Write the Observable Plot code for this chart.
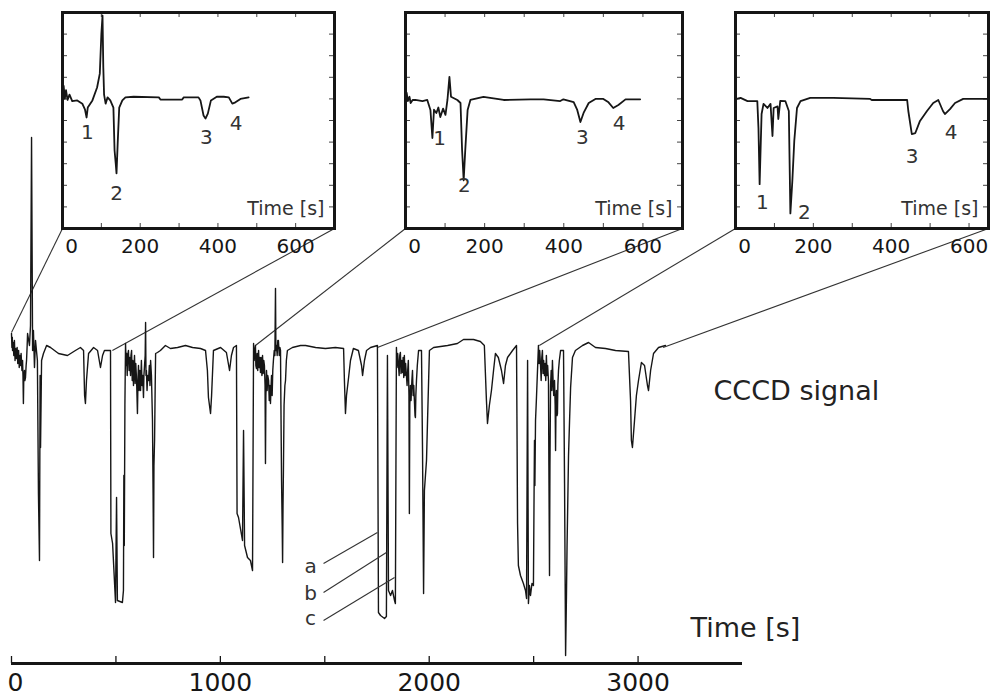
<!DOCTYPE html>
<html><head><meta charset="utf-8">
<script src="https://cdn.jsdelivr.net/npm/d3@7"></script>
<script src="https://cdn.jsdelivr.net/npm/@observablehq/plot@0.6"></script>
<style>
body{margin:0;background:#fff;}
#wrap{position:relative;width:993px;height:700px;overflow:hidden;font-family:"DejaVu Sans",Verdana,sans-serif;}
#wrap svg{position:absolute;overflow:visible;}
</style></head><body><div id="wrap"></div>
<script>
// ---- main CCCD signal: [time s, signal (a.u.)]
const mainSignal = [[0,12],[2,-2],[4,8],[5,-5],[8,3],[11,-10],[14,5],[17,-15],[20,-3],[24,-13],[27,-2],[30,-18],[34,-5],[37,-22],[40,-10],[43,-20],[46,-8],[50,-25],[53,-15],[55,-30],[57,-58],[59,-30],[62,-25],[64,-35],[67,-32],[70,-20],[72,-15],[75,0],[77,12],[86,0],[91,20],[96,208],[101,-5],[105,15],[110,-22],[115,5],[124,-15],[129,-148],[134,-215],[137,-30],[139,-102],[144,-15],[153,-8],[168,0],[187,-2],[225,-8],[268,-10],[306,-5],[330,-2],[345,-5],[350,-50],[354,-58],[359,-35],[369,-8],[393,-2],[412,-5],[426,-22],[436,-10],[445,-5],[474,-5],[476,-188],[484,-198],[498,-257],[503,-152],[507,-255],[531,-257],[536,-245],[538,-130],[540,-200],[543,-60],[546,2],[549,-20],[551,-8],[554,-30],[556,-10],[560,-5],[563,-25],[566,-12],[570,-30],[572,-10],[575,-5],[578,-35],[581,-15],[584,-40],[587,-20],[589,-10],[592,-38],[595,-18],[599,-35],[603,-68],[606,-30],[608,-20],[611,-45],[614,-25],[618,-45],[620,-28],[622,-15],[625,-40],[628,-30],[632,-52],[634,-30],[637,-20],[640,-10],[642,23],[644,-30],[646,-25],[649,-45],[652,-30],[656,-35],[660,-20],[663,-40],[666,-15],[670,-30],[675,-75],[678,-150],[680,-212],[682,-120],[685,-95],[688,-40],[690,-8],[699,-7],[713,-5],[737,0],[761,-3],[795,-2],[833,0],[867,-2],[905,-3],[929,-5],[938,-25],[943,-52],[953,-68],[958,-50],[967,-5],[1001,-2],[1029,-7],[1044,-25],[1053,-10],[1063,-2],[1077,0],[1080,-168],[1087,-172],[1106,-195],[1111,-85],[1116,-200],[1130,-212],[1144,-215],[1154,-225],[1159,2],[1162,-15],[1165,-5],[1168,0],[1170,-20],[1173,-23],[1176,-8],[1179,-25],[1183,-5],[1186,-22],[1189,-12],[1192,-27],[1195,-12],[1199,-30],[1202,-10],[1205,-28],[1208,-15],[1211,-20],[1214,-40],[1216,-118],[1218,-50],[1221,-25],[1224,-45],[1227,-30],[1231,-35],[1234,-55],[1237,-40],[1240,-58],[1243,-40],[1245,-30],[1248,-50],[1251,-25],[1254,-15],[1258,-5],[1261,-10],[1264,57],[1266,-5],[1269,0],[1272,-10],[1275,5],[1278,5],[1282,-10],[1285,-2],[1288,-5],[1290,-60],[1293,-135],[1296,-180],[1298,-217],[1300,-160],[1302,-125],[1305,-60],[1309,-40],[1312,-35],[1316,-15],[1321,-5],[1345,-2],[1384,0],[1408,0],[1456,-2],[1503,-3],[1551,-2],[1590,-3],[1594,-35],[1599,-68],[1604,-50],[1614,-32],[1623,-15],[1637,-3],[1661,-5],[1676,-20],[1681,-30],[1690,-15],[1700,-5],[1719,-2],[1752,0],[1757,-267],[1767,-270],[1786,-273],[1795,-271],[1800,-10],[1805,-245],[1815,-250],[1824,-245],[1834,-255],[1838,-258],[1843,-2],[1846,-22],[1849,-8],[1853,-20],[1856,-30],[1859,-10],[1862,-7],[1865,-28],[1868,-15],[1872,-27],[1875,-12],[1878,-32],[1881,-10],[1884,-30],[1887,-18],[1891,-30],[1894,-40],[1897,-25],[1900,-15],[1903,-50],[1905,-168],[1907,-60],[1910,-40],[1913,-55],[1917,-35],[1920,-25],[1923,-50],[1926,-40],[1929,-55],[1932,-70],[1934,-72],[1936,-50],[1939,-35],[1943,-20],[1949,-5],[1963,-5],[1968,-105],[1973,-248],[1977,-145],[1982,-130],[1987,-115],[1992,-75],[2001,-5],[2021,-2],[2088,0],[2135,2],[2164,6],[2212,6],[2245,4],[2264,0],[2274,-55],[2279,-78],[2288,-60],[2298,-45],[2308,-25],[2317,-8],[2331,-12],[2346,-25],[2356,-38],[2365,-20],[2375,-12],[2399,-5],[2418,0],[2423,-178],[2427,-220],[2437,-230],[2451,-238],[2461,-245],[2466,-253],[2471,-15],[2475,-258],[2480,-240],[2485,-250],[2492,-238],[2499,-240],[2502,-150],[2504,-95],[2506,-140],[2509,-75],[2513,-55],[2523,0],[2526,-18],[2529,-5],[2533,-20],[2536,-35],[2539,-12],[2542,-5],[2545,-28],[2548,-15],[2552,-30],[2555,-18],[2558,-35],[2561,-10],[2564,-30],[2567,-20],[2571,-35],[2573,-120],[2576,-230],[2578,-120],[2581,-40],[2584,-25],[2587,-45],[2590,-15],[2593,-35],[2596,-50],[2600,-35],[2603,-60],[2605,-105],[2607,-60],[2609,-45],[2612,-70],[2614,-68],[2616,-40],[2619,-25],[2623,-15],[2629,-5],[2643,-5],[2648,-138],[2653,-310],[2657,-252],[2660,-200],[2662,-175],[2667,-110],[2672,-75],[2677,-42],[2686,-12],[2700,-5],[2734,0],[2763,3],[2796,-2],[2844,-3],[2892,-5],[2954,-6],[2964,-55],[2968,-95],[2973,-102],[2983,-75],[2992,-50],[3002,-35],[3016,-17],[3031,-20],[3045,-40],[3050,-45],[3060,-25],[3074,-8],[3098,-2],[3131,0]];

// ---- insets: [time s, signal (divisions)]
const inset1Signal = [[0,6.3],[3,6.6],[6,6.0],[9,6.4],[13,5.95],[18,6.2],[25,5.9],[38,5.93],[51,5.78],[58,5.5],[62,5.14],[65,5.6],[77,5.93],[89,6.53],[96,7.17],[100,9.0],[103,9.86],[105,7.47],[107,6.2],[111,5.78],[116,6.07],[123,5.93],[131,5.6],[134,3.61],[137,3.0],[139,2.55],[142,3.93],[146,5.6],[154,5.93],[162,6.07],[183,6.1],[248,6.07],[252,5.97],[308,5.97],[312,6.07],[350,6.07],[355,5.93],[363,5.23],[368,5.09],[374,5.32],[382,5.93],[397,6.1],[415,6.1],[428,6.07],[437,5.78],[445,5.84],[458,6.0],[479,6.07]];
const inset2Signal = [[0,6.3],[3,6.28],[6,5.9],[10,6.1],[13,5.81],[18,5.95],[25,5.95],[43,5.9],[55,5.95],[63,5.49],[68,4.19],[72,5.5],[78,5.35],[83,5.6],[88,5.16],[95,5.55],[101,5.26],[106,5.95],[111,7.02],[115,6.1],[131,5.95],[139,5.81],[143,3.63],[147,2.23],[151,3.63],[157,5.49],[164,5.95],[197,6.09],[248,5.95],[316,5.98],[349,5.98],[391,5.9],[399,5.98],[425,5.85],[434,5.49],[442,4.93],[450,5.35],[463,5.81],[480,6.0],[500,6.0],[513,5.84],[525,5.58],[538,5.72],[556,5.98],[593,5.98]];
const inset3Signal = [[0,6.0],[3,6.0],[13,6.05],[31,5.9],[56,5.9],[59,4.65],[62,2.05],[67,5.3],[72,5.77],[82,5.58],[90,5.77],[95,4.28],[98,5.58],[108,5.65],[110,5.07],[115,5.91],[128,5.9],[137,5.44],[141,0.7],[146,2.19],[151,4.05],[158,5.58],[167,5.9],[192,6.05],[251,6.05],[346,6.0],[350,5.95],[441,5.95],[444,5.44],[453,4.37],[462,4.42],[474,4.98],[492,5.44],[508,5.81],[521,5.95],[533,5.44],[538,5.3],[551,5.53],[564,5.81],[585,6.0],[648,6.0]];

// peak labels [label, time, level]
const inset1Peaks = [["1",64,4.44],["2",139,1.62],["3",370,4.21],["4",447,4.86]];
const inset2Peaks = [["1",86,4.14],["2",149,2.0],["3",447,4.19],["4",540,4.84]];
const inset3Peaks = [["1",69,1.21],["2",177,0.74],["3",454,3.35],["4",554,4.42]];

// zoomed time windows on the main trace: [[t, v] start, [t, v] end]
const zoomWindows = [[[0,13],[483,-5]],[[1168,0],[1752,-2]],[[2527,0],[3120,-2]]];

// tick values
const mainTicks = [0,500,1000,1500,2000,2500,3000];
const mainTickLabels = [1000,2000,3000];
const insetXTicks = [0,100,200,300,400,500,600,700];
const insetXLabels = [200,400,600];
const insetYTicks = [0,1,2,3,4,5,6,7,8,9,10];

// annotations
const abcLabels = ["a","b","c"];
const abcText = [[1432,-221],[1432,-248],[1432,-273]];
const abcLeaderFrom = [[1494,-218],[1494,-247],[1494,-275]];
const abcLeaderTo = [[1752,-187],[1795,-207],[1834,-232]];
const mainTexts = [{t:3361, v:-45.5, label:"CCCD signal"},{t:3251, v:-282.5, label:"Time [s]"}];

// ---- layout
const W = 993, H = 700;
const FONT = "DejaVu Sans, Verdana, sans-serif";
const INK = "#161616";
const mainX = {domain:[0,3500], range:[11,742]};
const mainY = {domain:[-318,345], range:[663,0]};
const xS = Plot.scale({x: mainX});
const yS = Plot.scale({y: mainY});

const insetLayout = [
  {signal: inset1Signal, peaks: inset1Peaks, xMax: 700, left: 62, top: 12, width: 272, height: 216},
  {signal: inset2Signal, peaks: inset2Peaks, xMax: 700, left: 405, top: 12, width: 277, height: 216},
  {signal: inset3Signal, peaks: inset3Peaks, xMax: 650, left: 735, top: 12, width: 253, height: 216}
];

const connectors = [];
insetLayout.forEach((L, i) => {
  const [a, b] = zoomWindows[i];
  const yb = yS.invert(L.top + L.height);
  connectors.push({x1: a[0], y1: a[1], x2: xS.invert(L.left), y2: yb});
  connectors.push({x1: b[0], y1: b[1], x2: xS.invert(L.left + L.width), y2: yb});
});

const wrap = document.getElementById("wrap");

const main = Plot.plot({
  width: W, height: H,
  marginTop: 0, marginBottom: 37, marginLeft: 0, marginRight: 0,
  x: {...mainX, axis: null},
  y: {...mainY, axis: null},
  style: {fontFamily: FONT, background: "transparent", overflow: "visible", color: INK},
  marks: [
    Plot.link(connectors, {x1: "x1", y1: "y1", x2: "x2", y2: "y2", stroke: "#333", strokeWidth: 1.1}),
    Plot.line(mainSignal, {x: d => d[0], y: d => d[1], stroke: INK, strokeWidth: 1.4}),
    Plot.ruleY([mainY.domain[0]], {x1: 0, x2: 3500, stroke: INK, strokeWidth: 3.2}),
    Plot.tickX(mainTicks, {x: d => d, insetTop: 656, stroke: INK, strokeWidth: 1.3}),
    Plot.text([0], {x: d => d, text: d => String(d), frameAnchor: "bottom", lineAnchor: "top", dx: 4, dy: 10, fontSize: 25, fill: INK}),
    Plot.text(mainTickLabels, {x: d => d, text: d => String(d), frameAnchor: "bottom", lineAnchor: "top", dy: 10, fontSize: 25, fill: INK}),
    Plot.link(abcLabels, {x1: (d,i) => abcLeaderFrom[i][0], y1: (d,i) => abcLeaderFrom[i][1], x2: (d,i) => abcLeaderTo[i][0], y2: (d,i) => abcLeaderTo[i][1], stroke: "#333", strokeWidth: 1.1}),
    Plot.text(abcLabels, {x: (d,i) => abcText[i][0], y: (d,i) => abcText[i][1], text: d => d, fontSize: 20, fill: "#333"}),
    Plot.text(mainTexts, {x: "t", y: "v", text: "label", textAnchor: "start", fontSize: 27, fill: "#222"})
  ]
});
main.style.left = "0px"; main.style.top = "0px";
wrap.appendChild(main);

insetLayout.forEach(L => {
  const mL = 12, mR = 12, mT = 6, mB = 40;
  const xt = insetXTicks.filter(d => d <= L.xMax);
  const p = Plot.plot({
    width: L.width + mL + mR, height: L.height + mT + mB,
    marginLeft: mL, marginRight: mR, marginTop: mT, marginBottom: mB,
    x: {domain: [0, L.xMax], axis: null},
    y: {domain: [0, 10], axis: null},
    style: {fontFamily: FONT, background: "transparent", overflow: "visible", color: INK},
    marks: [
      Plot.tickX(xt, {x: d => d, insetTop: L.height - 5, stroke: "#444", strokeWidth: 1}),
      Plot.tickX(xt, {x: d => d, insetBottom: L.height - 5, stroke: "#444", strokeWidth: 1}),
      Plot.tickY(insetYTicks, {y: d => d, insetRight: L.width - 5, stroke: "#444", strokeWidth: 1}),
      Plot.tickY(insetYTicks, {y: d => d, insetLeft: L.width - 5, stroke: "#444", strokeWidth: 1}),
      Plot.frame({stroke: INK, strokeWidth: 3}),
      Plot.line(L.signal, {x: d => d[0], y: d => d[1], stroke: INK, strokeWidth: 1.8}),
      Plot.text(L.peaks, {x: d => d[1], y: d => d[2], text: d => d[0], fontSize: 20, fill: "#333"}),
      Plot.text(["Time [s]"], {text: d => d, frameAnchor: "bottom-right", textAnchor: "end", lineAnchor: "middle", dx: -10, dy: -20, fontSize: 19, fill: "#333"}),
      Plot.text([0], {x: d => d, text: d => String(d), frameAnchor: "bottom", lineAnchor: "top", dx: 9, dy: 10, fontSize: 20, fill: INK}),
      Plot.text(insetXLabels, {x: d => d, text: d => String(d), frameAnchor: "bottom", lineAnchor: "top", dy: 10, fontSize: 20, fill: INK})
    ]
  });
  p.style.left = (L.left - mL) + "px";
  p.style.top = (L.top - mT) + "px";
  wrap.appendChild(p);
});
</script></body></html>
